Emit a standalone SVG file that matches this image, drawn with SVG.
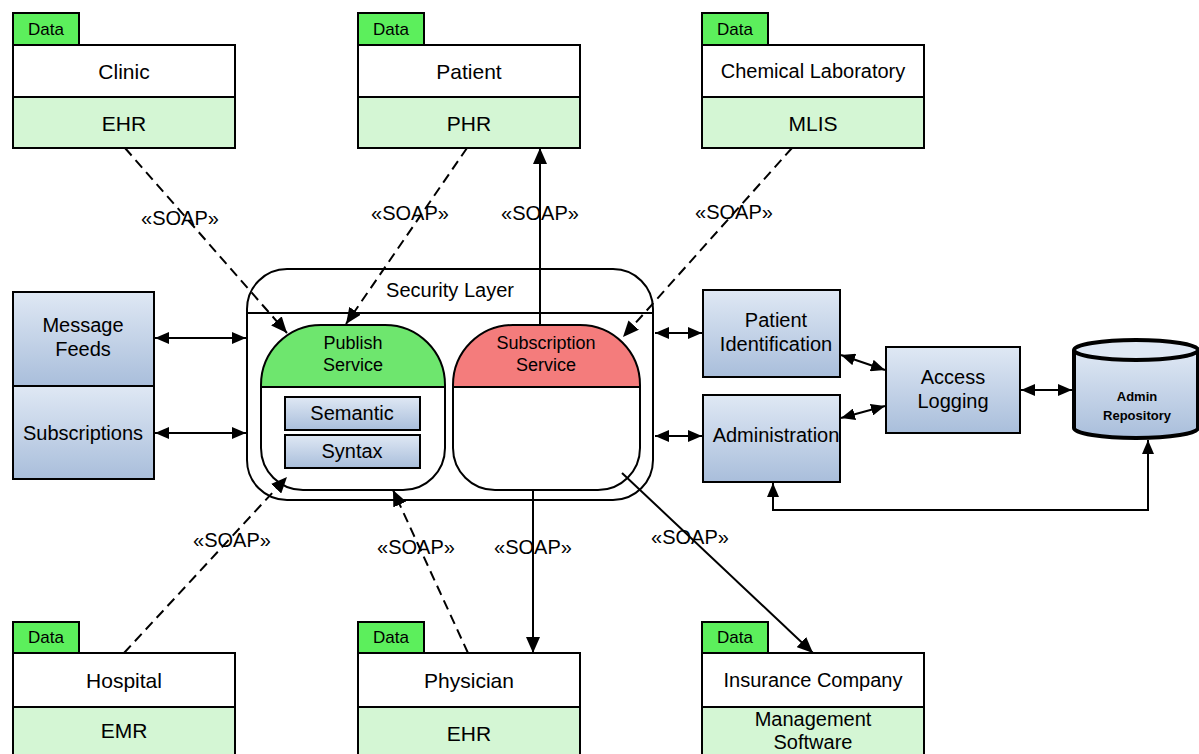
<svg xmlns="http://www.w3.org/2000/svg" width="1199" height="754" viewBox="0 0 1199 754">
<style>
text{font-family:"Liberation Sans",Arial,sans-serif;fill:#000;text-anchor:middle;dominant-baseline:central}
.tab{fill:#5cef5c;stroke:#000;stroke-width:2}
.top{fill:#fff;stroke:#000;stroke-width:2}
.bot{fill:#d4f6d4;stroke:#000;stroke-width:2}
.blue{fill:url(#bg);stroke:#000;stroke-width:2}
.t20{font-size:20px}
.t21{font-size:21px}
.tdata{font-size:17px}
.tsvc{font-size:18px}
.ln{fill:none;stroke:#000;stroke-width:2}
.dash{fill:none;stroke:#000;stroke-width:2;stroke-dasharray:10,6}
</style>
<defs>
<linearGradient id="bg" x1="0" y1="0" x2="0" y2="1">
<stop offset="0" stop-color="#dfe8f4"/>
<stop offset="1" stop-color="#a9bedb"/>
</linearGradient>
<marker id="ah" markerUnits="userSpaceOnUse" markerWidth="16" markerHeight="14" refX="16" refY="7" orient="auto-start-reverse" viewBox="0 0 16 14">
<path d="M0,0 L16,7 L0,14 z" fill="#000"/>
</marker>
<marker id="as" markerUnits="userSpaceOnUse" markerWidth="14" markerHeight="12" refX="14" refY="6" orient="auto-start-reverse" viewBox="0 0 14 12">
<path d="M0,0 L14,6 L0,12 z" fill="#000"/>
</marker>
</defs>
<rect width="1199" height="754" fill="#fff"/>

<g id="clinic">
<rect class="tab" x="13" y="13" width="66" height="32"/>
<text class="tdata" x="46" y="29">Data</text>
<rect class="top" x="13" y="45" width="222" height="52"/>
<rect class="bot" x="13" y="97" width="222" height="51"/>
<text class="t21" x="124" y="71">Clinic</text>
<text class="t21" x="124" y="123">EHR</text>
</g>
<g id="patient">
<rect class="tab" x="358" y="13" width="66" height="32"/>
<text class="tdata" x="391" y="29">Data</text>
<rect class="top" x="358" y="45" width="222" height="52"/>
<rect class="bot" x="358" y="97" width="222" height="51"/>
<text class="t21" x="469" y="71">Patient</text>
<text class="t21" x="469" y="123">PHR</text>
</g>
<g id="chemlab">
<rect class="tab" x="702" y="13" width="66" height="32"/>
<text class="tdata" x="735" y="29">Data</text>
<rect class="top" x="702" y="45" width="222" height="52"/>
<rect class="bot" x="702" y="97" width="222" height="51"/>
<text class="t20" x="813" y="71">Chemical Laboratory</text>
<text class="t21" x="813" y="123">MLIS</text>
</g>
<g id="hospital">
<rect class="tab" x="13" y="622" width="66" height="31"/>
<text class="tdata" x="46" y="637">Data</text>
<rect class="top" x="13" y="653" width="222" height="54"/>
<rect class="bot" x="13" y="707" width="222" height="55"/>
<text class="t21" x="124" y="680">Hospital</text>
<text class="t21" x="124" y="730">EMR</text>
</g>
<g id="physician">
<rect class="tab" x="358" y="622" width="66" height="31"/>
<text class="tdata" x="391" y="637">Data</text>
<rect class="top" x="358" y="653" width="222" height="54"/>
<rect class="bot" x="358" y="707" width="222" height="55"/>
<text class="t21" x="469" y="680">Physician</text>
<text class="t21" x="469" y="733">EHR</text>
</g>
<g id="insurance">
<rect class="tab" x="702" y="622" width="66" height="31"/>
<text class="tdata" x="735" y="637">Data</text>
<rect class="top" x="702" y="653" width="222" height="54"/>
<rect class="bot" x="702" y="707" width="222" height="55"/>
<text class="t20" x="813" y="680">Insurance Company</text>
<text class="t20" x="813" y="719">Management</text>
<text class="t20" x="813" y="742">Software</text>
</g>

<g id="security-layer">
<rect x="247" y="269" width="406" height="231" rx="40" ry="40" fill="#fff" stroke="#000" stroke-width="2"/>
<line x1="247" y1="313" x2="653" y2="313" stroke="#000" stroke-width="2"/>
<text class="t20" x="450" y="290">Security Layer</text>
</g>
<g id="publish">
<path d="M261,387 V385 A60,60 0 0 1 321,325 H385 A60,60 0 0 1 445,385 V387 Z" fill="#6ee66e"/>
<path d="M261,387 V385 A60,60 0 0 1 321,325 H385 A60,60 0 0 1 445,385 V448 A42,42 0 0 1 403,490 H303 A42,42 0 0 1 261,448 Z" class="ln"/>
<line x1="261" y1="387" x2="445" y2="387" stroke="#000" stroke-width="2"/>
<text class="tsvc" x="353" y="343">Publish</text>
<text class="tsvc" x="353" y="365">Service</text>
</g>
<g id="semantic">
<rect class="blue" x="285" y="397" width="135" height="33"/>
<text class="t20" x="352" y="413">Semantic</text>
</g>
<g id="syntax">
<rect class="blue" x="285" y="435" width="135" height="33"/>
<text class="t20" x="352" y="451">Syntax</text>
</g>
<g id="subscription">
<path d="M453,387 V385 A60,60 0 0 1 513,325 H580 A60,60 0 0 1 640,385 V387 Z" fill="#f47c7c"/>
<path d="M453,387 V385 A60,60 0 0 1 513,325 H580 A60,60 0 0 1 640,385 V448 A42,42 0 0 1 598,490 H495 A42,42 0 0 1 453,448 Z" class="ln"/>
<line x1="453" y1="387" x2="640" y2="387" stroke="#000" stroke-width="2"/>
<text class="tsvc" x="546" y="343">Subscription</text>
<text class="tsvc" x="546" y="365">Service</text>
</g>

<g id="message-feeds">
<rect class="blue" x="13" y="292" width="141" height="94"/>
<text class="t20" x="83" y="325">Message</text>
<text class="t20" x="83" y="349">Feeds</text>
</g>
<g id="subscriptions">
<rect class="blue" x="13" y="386" width="141" height="93"/>
<text class="t20" x="83" y="433">Subscriptions</text>
</g>
<g id="patient-identification">
<rect class="blue" x="703" y="290" width="137" height="87"/>
<text class="t20" x="776" y="320">Patient</text>
<text class="t20" x="776" y="344">Identification</text>
</g>
<g id="administration">
<rect class="blue" x="703" y="395" width="137" height="87"/>
<text class="t20" x="776" y="435">Administration</text>
</g>
<g id="access-logging">
<rect class="blue" x="886" y="347" width="134" height="86"/>
<text class="t20" x="953" y="377">Access</text>
<text class="t20" x="953" y="401">Logging</text>
</g>
<g id="admin-repository">
<path d="M1074,350 V428 A62,10 0 0 0 1198,428 V350" fill="url(#bg)" stroke="#000" stroke-width="4"/>
<ellipse cx="1136" cy="350" rx="62" ry="10" fill="#dfe8f4" stroke="#000" stroke-width="4"/>
<text x="1137" y="396" style="font-size:13px;font-weight:bold">Admin</text>
<text x="1137" y="415" style="font-size:13px;font-weight:bold">Repository</text>
</g>

<g id="connectors">
<line class="dash" x1="125" y1="148" x2="287" y2="333" marker-end="url(#ah)"/>
<line class="dash" x1="467" y1="148" x2="346" y2="324" marker-end="url(#ah)"/>
<line class="ln" x1="540" y1="325" x2="540" y2="148" marker-end="url(#ah)"/>
<line class="dash" x1="792" y1="148" x2="623" y2="337" marker-end="url(#ah)"/>
<line class="dash" x1="124" y1="653" x2="287" y2="477" marker-end="url(#ah)"/>
<line class="dash" x1="468" y1="653" x2="393" y2="490" marker-end="url(#ah)"/>
<line class="ln" x1="533" y1="490" x2="533" y2="653" marker-end="url(#ah)"/>
<line class="ln" x1="622" y1="473" x2="813" y2="653" marker-end="url(#ah)"/>

<line class="ln" x1="155" y1="338" x2="246" y2="338" marker-start="url(#as)" marker-end="url(#as)"/>
<line class="ln" x1="155" y1="433" x2="246" y2="433" marker-start="url(#as)" marker-end="url(#as)"/>
<line class="ln" x1="655" y1="333" x2="702" y2="333" marker-start="url(#as)" marker-end="url(#as)"/>
<line class="ln" x1="655" y1="436" x2="702" y2="436" marker-start="url(#as)" marker-end="url(#as)"/>
<line class="ln" x1="841" y1="355" x2="885" y2="370" marker-start="url(#as)" marker-end="url(#as)"/>
<line class="ln" x1="841" y1="418" x2="885" y2="406" marker-start="url(#as)" marker-end="url(#as)"/>
<line class="ln" x1="1021" y1="390" x2="1072" y2="390" marker-start="url(#as)" marker-end="url(#as)"/>
<path class="ln" d="M1148,440 V510 H773 V483" marker-start="url(#as)" marker-end="url(#as)"/>

<g class="t20">
<text x="180" y="218">«SOAP»</text>
<text x="410" y="213">«SOAP»</text>
<text x="540" y="213">«SOAP»</text>
<text x="734" y="212">«SOAP»</text>
<text x="232" y="540">«SOAP»</text>
<text x="416" y="547">«SOAP»</text>
<text x="533" y="547">«SOAP»</text>
<text x="690" y="537">«SOAP»</text>
</g>
</g>
</svg>
